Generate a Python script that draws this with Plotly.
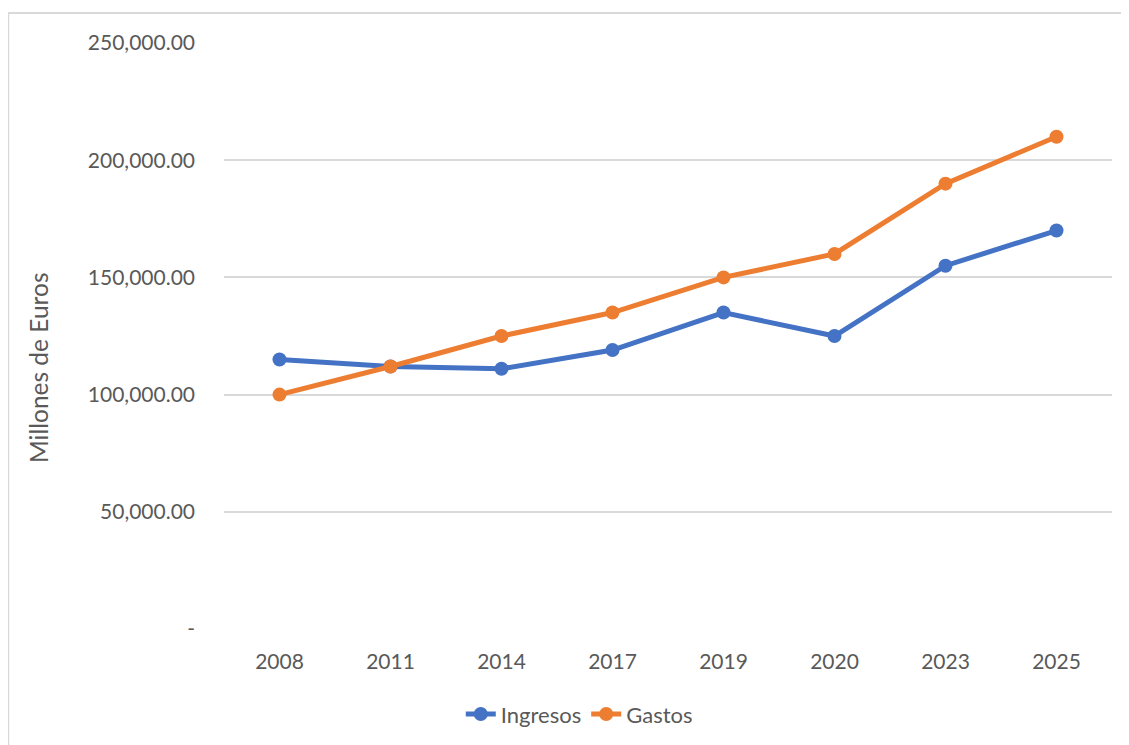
import plotly.graph_objects as go

years = ["2008", "2011", "2014", "2017", "2019", "2020", "2023", "2025"]
ingresos = [115000, 112000, 111000, 119000, 135000, 125000, 155000, 170000]
gastos = [100000, 112000, 125000, 135000, 150000, 160000, 190000, 210000]

y_ticks = [0, 50000, 100000, 150000, 200000, 250000]
y_labels = ["-", "50,000.00", "100,000.00", "150,000.00", "200,000.00", "250,000.00"]

FONT = "Lato, 'Open Sans', sans-serif"
GREY = "#595959"

fig = go.Figure()
fig.add_trace(go.Scatter(x=years, y=ingresos, name="Ingresos", mode="lines+markers",
                         line=dict(color="#4472C4", width=5),
                         marker=dict(size=14, color="#4472C4")))
fig.add_trace(go.Scatter(x=years, y=gastos, name="Gastos", mode="lines+markers",
                         line=dict(color="#ED7D31", width=5),
                         marker=dict(size=14, color="#ED7D31")))

fig.update_layout(
    width=1129, height=745,
    margin=dict(l=216, r=25, t=35, b=124),
    plot_bgcolor="white", paper_bgcolor="white",
    font=dict(family=FONT, size=21, color=GREY),
    showlegend=True,
    legend=dict(orientation="h", xref="container", x=0.506, xanchor="center",
                yref="container", y=0.052, yanchor="middle",
                font=dict(size=22, color=GREY), tracegroupgap=0),
    xaxis=dict(type="category", range=[-0.5, 7.5], showgrid=False, showline=False,
               ticks="", tickfont=dict(size=21, color=GREY), ticklabelstandoff=18),
    yaxis=dict(range=[0, 250000], tickvals=y_ticks, ticktext=y_labels,
               showgrid=True, gridcolor="#D9D9D9", gridwidth=1.5, zeroline=False,
               showline=False, ticks="", ticklabelstandoff=28,
               tickfont=dict(size=21, color=GREY)),
    # axis title sits a bit below the plot centre in the original
    annotations=[dict(text="Millones de Euros", textangle=-90, xref="paper", yref="paper",
                      x=-0.2095, y=0.447, xanchor="center", yanchor="middle",
                      showarrow=False, font=dict(size=24.5, color=GREY))],
    shapes=[dict(type="rect", xref="paper", yref="paper", x0=-0.243, x1=1.3, y0=-0.4, y1=1.051,
                 line=dict(color="#D9D9D9", width=2), layer="below")],
)

fig.write_html("out.html")
